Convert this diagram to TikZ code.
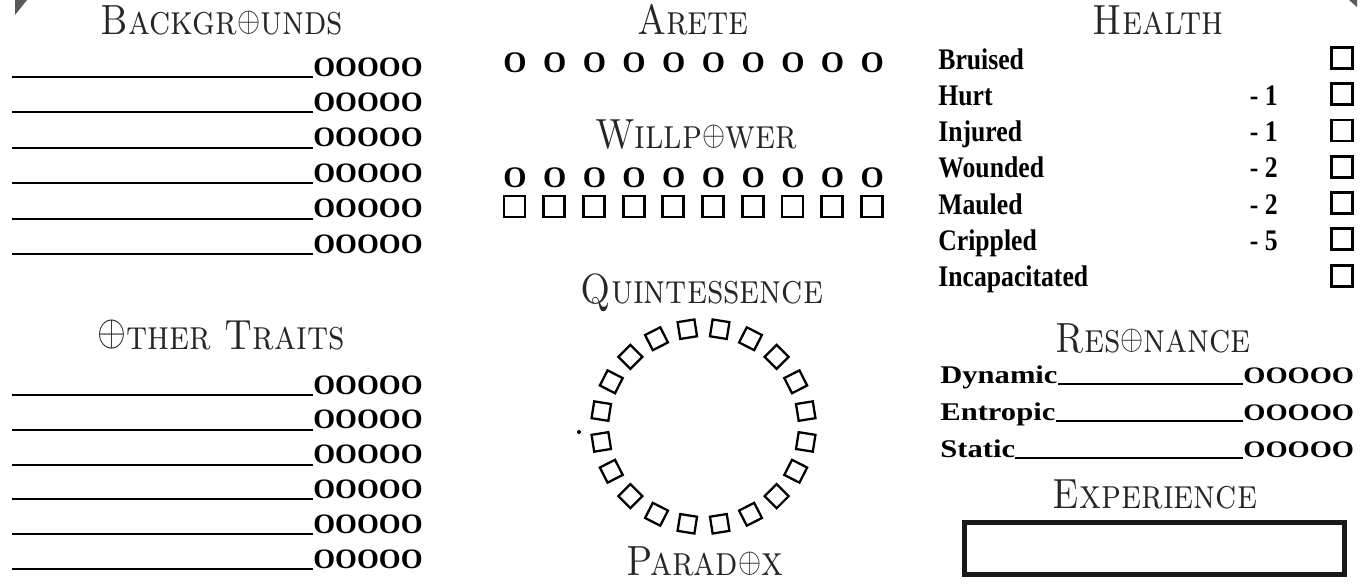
\documentclass[tikz,border=0pt]{standalone}
\usepackage{fontspec}
\usepackage{graphicx}
\newfontfamily\sheetfont{Liberation Serif}
\newfontfamily\healthfont{Liberation Serif}[FakeStretch=0.86]
\newfontfamily\resfont{Liberation Serif}[FakeStretch=1.2]
\newcommand{\bigox}{\raisebox{0.083em}{$\oplus$}}
\newcommand{\smallox}{\raisebox{0.067em}{\scalebox{0.8}{$\oplus$}}}
\newcommand{\sheethead}[1]{\scalebox{0.85}[1]{\scshape #1}}

\begin{document}
\begin{tikzpicture}
		\tikzstyle{head}=[anchor=base,inner sep=0,text=black!85,font=\fontsize{24}{24}\selectfont]
		\tikzstyle{dots}=[anchor=base west,inner sep=0,font=\sheetfont\bfseries\fontsize{16}{16}\selectfont]
		\tikzstyle{dot}=[anchor=base,inner sep=0,font=\sheetfont\bfseries\fontsize{17}{17}\selectfont]
		\tikzstyle{rule}=[line width=1.1pt]
		\tikzstyle{wpbox}=[draw,line width=1.6pt,minimum size=0.42cm,inner sep=0]
		\tikzstyle{qbox}=[draw,line width=1.3pt,minimum size=0.34cm,inner sep=0]
		\tikzstyle{hlabel}=[anchor=base west,inner sep=0,font=\healthfont\bfseries\fontsize{17}{17}\selectfont]
		\tikzstyle{hmod}=[anchor=base east,inner sep=0,font=\healthfont\bfseries\fontsize{17}{17}\selectfont]
		\tikzstyle{hbox}=[draw,line width=1.6pt,minimum size=0.42cm,inner sep=0]
		\tikzstyle{rlabel}=[anchor=base west,inner sep=0,font=\resfont\bfseries\fontsize{14.5}{14.5}\selectfont]
		\tikzstyle{rdots}=[anchor=base west,inner sep=0,font=\resfont\bfseries\fontsize{13.5}{13.5}\selectfont]
		
		\useasboundingbox (0,0) rectangle (27.4,-11.72);
		
		% corner marks
		\fill[black!65] (0.30,0) -- (0.54,0) -- (0.30,-0.30) -- cycle;
		\fill[black!65] (26.98,0) -- (27.14,0) -- (27.14,-0.14) -- cycle;
		
		% headers
		\node [head] (bghead)  at (4.44,-0.68)  {\sheethead{Backgr\smallox unds}};
		\node [head] (arhead)  at (13.86,-0.68) {\sheethead{Arete}};
		\node [head] (hthead)  at (23.16,-0.68) {\sheethead{Health}};
		\node [head] (wphead)  at (13.92,-2.96) {\sheethead{Willp\smallox wer}};
		\node [head] (qhead)   at (14.04,-6.06) {\sheethead{Quintessence}};
		\node [head] (othead)  at (4.42,-6.98)  {\sheethead{\bigox ther Traits}};
		\node [head] (rshead)  at (23.06,-7.04) {\sheethead{Res\smallox nance}};
		\node [head] (pxhead)  at (14.10,-11.50) {\sheethead{Parad\smallox x}};
		\node [head] (xphead)  at (23.10,-10.16) {\sheethead{Experience}};
		
		% backgrounds and other traits
		\foreach \i in {1,...,6} {
			\node [dots] (bg\i) at (6.26,{-1.52-0.708*(\i-1)}) {OOOOO};
			\coordinate (bgl\i) at (0.24,{-1.54-0.708*(\i-1)});
			\draw [rule] (bgl\i) -- (bgl\i -| bg\i.west);
			\node [dots] (ot\i) at (6.26,{-7.88-0.696*(\i-1)}) {OOOOO};
			\coordinate (otl\i) at (0.24,{-7.90-0.696*(\i-1)});
			\draw [rule] (otl\i) -- (otl\i -| ot\i.west);
		}
		
		% arete and willpower
		\foreach \i in {1,...,10} {
			\node [dot] (ar\i) at ({10.30+0.794*(\i-1)},-1.44) {O};
			\node [dot] (wp\i) at ({10.30+0.794*(\i-1)},-3.74) {O};
			\node [wpbox] (wb\i) at ({10.29+0.794*(\i-1)},-4.13) {};
		}
		
		% quintessence / paradox wheel
		\foreach \k in {0,...,19}
			\node [qbox, rotate={9+18*\k}] (qb\k) at ({14.07+2.07*cos(9+18*\k)},{-8.53+1.97*sin(9+18*\k)}) {};
		\node [circle,fill,inner sep=0,minimum size=0.08cm] (qdot) at (11.58,-8.64) {};
		
		% health
		\foreach \lab [count=\i from 0] in {Bruised,Hurt,Injured,Wounded,Mauled,Crippled,Incapacitated} {
			\node [hlabel] (hl\i) at (18.76,{-1.38-0.726*\i}) {\lab};
			\node [hbox] (hb\i) at (26.84,{-1.157-0.726*\i}) {};
		}
		\foreach \mod/\i in {1/1,1/2,2/3,2/4,5/5}
			\node [hmod] (hm\i) at (25.56,{-1.38-0.726*\i}) {- \mod};
		
		% resonance
		\foreach \lab/\i in {Dynamic/0,Entropic/1,Static/2} {
			\node [rlabel] (rl\i) at (18.80,{-7.66-0.74*\i}) {\lab};
			\node [rdots] (rd\i) at (24.86,{-7.66-0.74*\i}) {OOOOO};
			\draw [rule] ([yshift=-0.02cm]rl\i.base east) -- ([yshift=-0.02cm]rd\i.base west);
		}
		
		% experience
		\node [draw,line width=2.8pt,draw=black!90,minimum width=7.6cm,minimum height=1.04cm,inner sep=0] (xpbox) at (23.09,-10.97) {};
	\end{tikzpicture}
\end{document}
